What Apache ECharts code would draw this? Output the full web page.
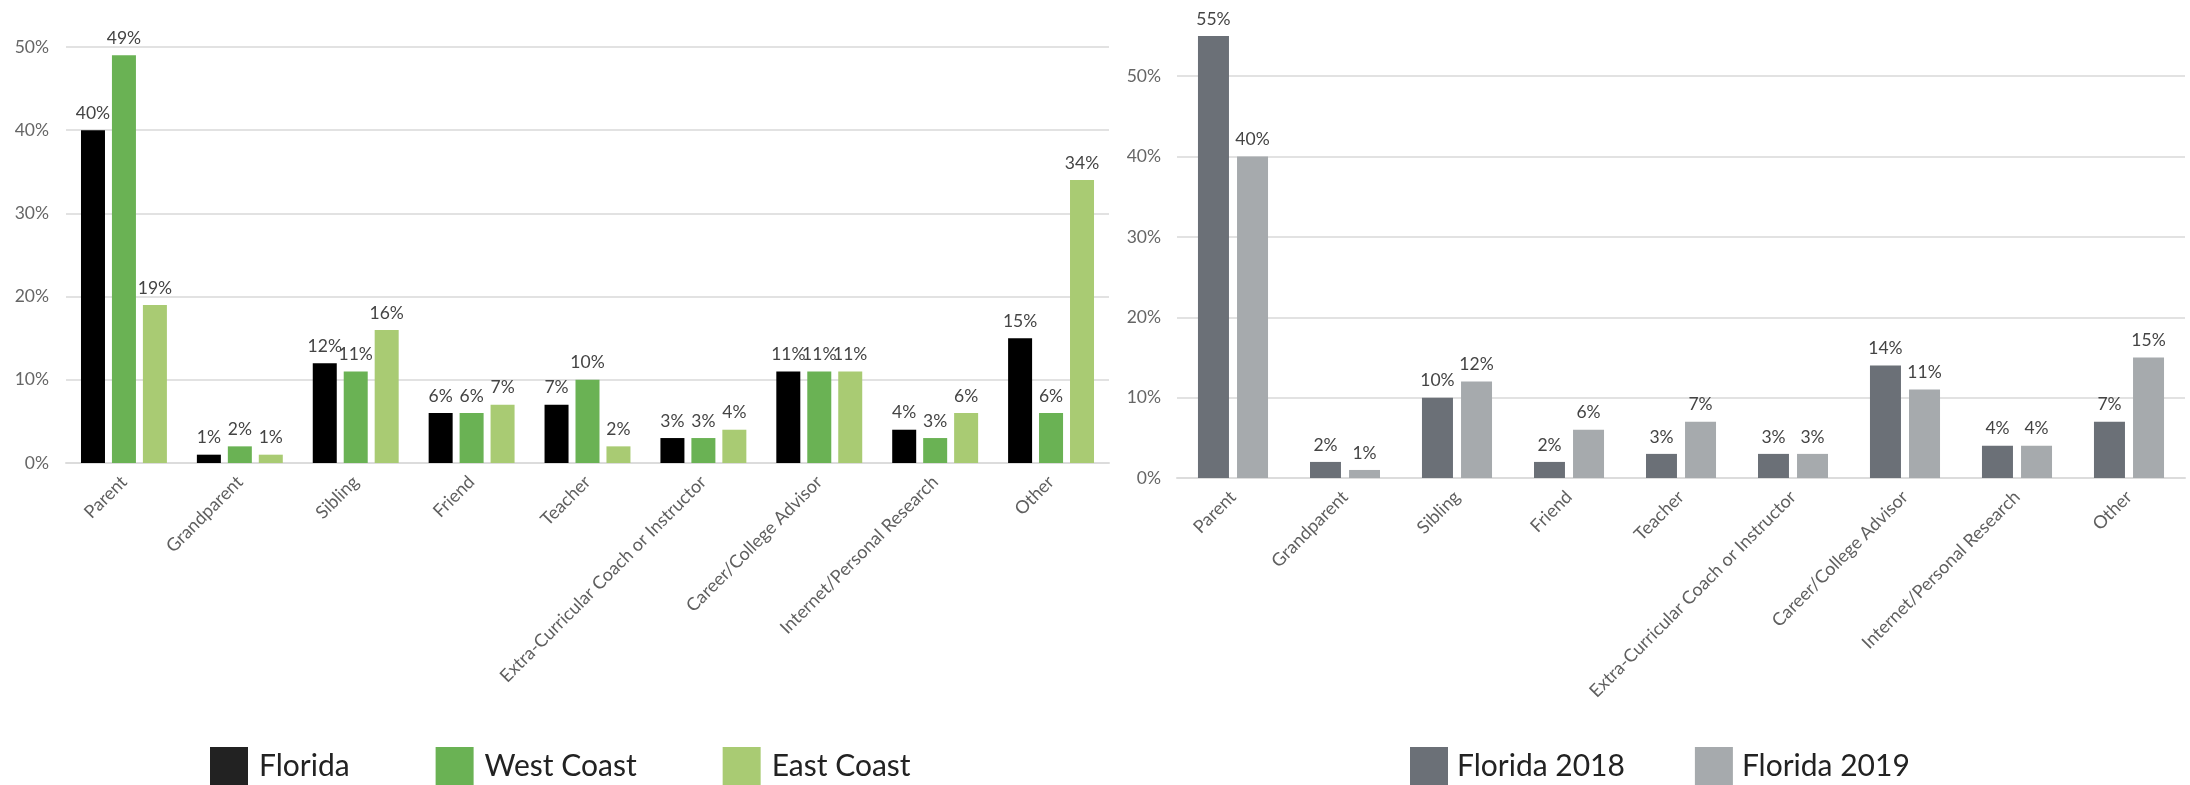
<!DOCTYPE html>
<html>
<head>
<meta charset="utf-8">
<script src="https://cdn.jsdelivr.net/npm/echarts@6/dist/echarts.min.js"></script>
<style>
html,body{margin:0;padding:0;background:#fff;}
#chart{width:2190px;height:785px;}
</style>
</head>
<body>
<div id="chart"></div>
<script>
const categories = ['Parent','Grandparent','Sibling','Friend','Teacher','Extra-Curricular Coach or Instructor','Career/College Advisor','Internet/Personal Research','Other'];
const florida = [40,1,12,6,7,3,11,4,15];
const westCoast = [49,2,11,6,10,3,11,3,6];
const eastCoast = [19,1,16,7,2,4,11,6,34];
const florida2018 = [55,2,10,2,3,3,14,4,7];
const florida2019 = [40,1,12,6,7,3,11,4,15];

const FONT = 'Lato, "Open Sans", sans-serif';
const chart = echarts.init(document.getElementById('chart'));

const labelCfg = {show:true, position:'top', distance:8, formatter:'{c}%', color:'#444', fontSize:17.5, fontFamily:FONT};

function xAxisCfg(gi){
  return {type:'category', gridIndex:gi, data:categories,
    axisLine:{show:true, lineStyle:{color:'#dcdcdc', width:2}},
    axisTick:{show:false},
    axisLabel:{rotate:45, margin:16, color:'#5f5f5f', fontSize:18, fontFamily:FONT, interval:0}};
}
const GRID = '#e2e2e2';
chart.setOption({
  animation:false,
  textStyle:{fontFamily:FONT},
  grid:[
    {left:66, right:1081, top:47, bottom:322},
    {left:1177, right:5, top:36, bottom:307}
  ],
  xAxis:[xAxisCfg(0), xAxisCfg(1)],
  yAxis:[
    {type:'value', gridIndex:0, min:0, max:50, interval:10,
     axisLine:{show:false}, axisTick:{show:false},
     splitLine:{lineStyle:{color:GRID, width:2}},
     axisLabel:{formatter:'{value}%', color:'#666', fontSize:17.5, fontFamily:FONT, margin:17}},
    {type:'value', gridIndex:1, min:0, max:55, interval:10,
     axisLine:{show:false}, axisTick:{show:false},
     splitLine:{lineStyle:{color:[GRID,GRID,GRID,GRID,GRID,GRID,'rgba(0,0,0,0)'], width:2}},
     axisLabel:{formatter:'{value}%', color:'#666', fontSize:17.5, fontFamily:FONT, margin:16, showMaxLabel:false}}
  ],
  legend:[
    {left:205, top:742, itemWidth:38, itemHeight:39, itemGap:86, icon:'rect',
     data:[{name:'Florida', itemStyle:{color:'#222'}},'West Coast','East Coast'],
     textStyle:{fontSize:30, color:'#222', fontFamily:FONT, padding:[0,0,0,6]}},
    {left:1405, top:742, itemWidth:38, itemHeight:39, itemGap:70, icon:'rect',
     data:['Florida 2018','Florida 2019'],
     textStyle:{fontSize:30, color:'#222', fontFamily:FONT, padding:[0,0,0,4]}}
  ],
  series:[
    {name:'Florida', type:'bar', xAxisIndex:0, yAxisIndex:0, data:florida, barWidth:24, barGap:'29%', itemStyle:{color:'#000'}, label:labelCfg},
    {name:'West Coast', type:'bar', xAxisIndex:0, yAxisIndex:0, data:westCoast, barWidth:24, barGap:'29%', itemStyle:{color:'#6ab254'}, label:labelCfg},
    {name:'East Coast', type:'bar', xAxisIndex:0, yAxisIndex:0, data:eastCoast, barWidth:24, barGap:'29%', itemStyle:{color:'#a9cb73'}, label:labelCfg},
    {name:'Florida 2018', type:'bar', xAxisIndex:1, yAxisIndex:1, data:florida2018, barWidth:31, barGap:'26%', itemStyle:{color:'#6b7077'}, label:labelCfg},
    {name:'Florida 2019', type:'bar', xAxisIndex:1, yAxisIndex:1, data:florida2019, barWidth:31, barGap:'26%', itemStyle:{color:'#a6aaad'}, label:labelCfg}
  ]
});
</script>
</body>
</html>
